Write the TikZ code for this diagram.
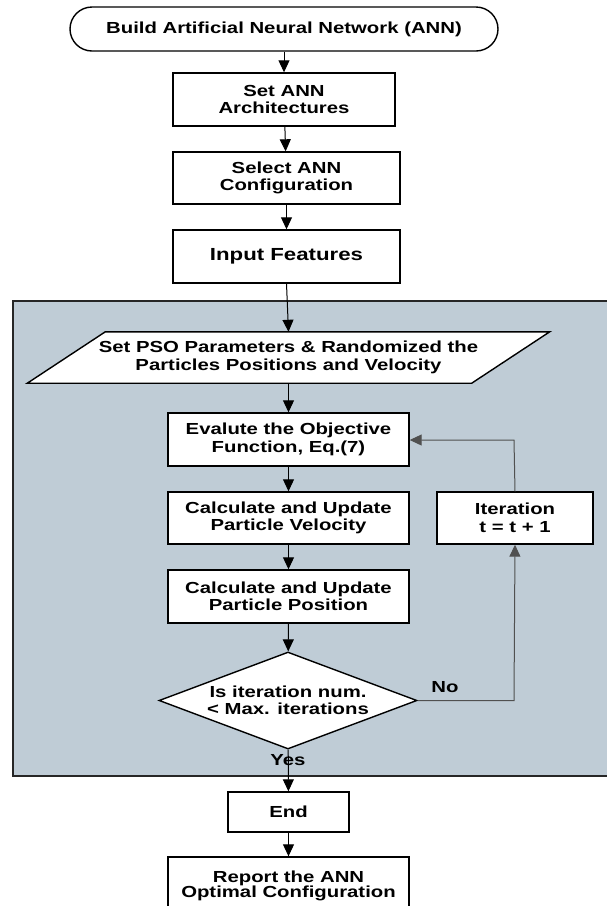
\documentclass[tikz,border=0pt]{standalone}
\usepackage{fontspec}
\newfontfamily\lab{Liberation Sans}[FakeStretch=1.27]
\usetikzlibrary{arrows.meta,shapes.geometric}
\definecolor{panelgray}{RGB}{191,204,214}
\definecolor{linegray}{RGB}{80,80,80}
\pgfdeclarelayer{back}
\pgfdeclarelayer{mid}
\pgfsetlayers{back,mid,main}
\begin{document}
\begin{tikzpicture}[x=1pt,y=-1pt,
  every node/.style={font=\lab\bfseries\fontsize{16}{17.5}\selectfont, align=center},
  box/.style={draw=black, fill=white, line width=1.4pt, inner sep=0pt},
  lbl/.style={inner sep=0pt},
  arr/.style={-{Triangle[width=11pt,length=12pt]}, line width=1pt, black},
  fb/.style={-{Triangle[width=11pt,length=12pt]}, line width=1pt, linegray}]
\useasboundingbox (0,0) rectangle (607,906);
\clip (0,0) rectangle (607,906);
\begin{pgfonlayer}{back}
\fill[white] (0,0) rectangle (607,906);
\filldraw[fill=panelgray, draw=black!85, line width=1.4pt] (13,301) rectangle (640,776);
\end{pgfonlayer}

\node[box, rounded corners=22pt, minimum width=428, minimum height=44] (start) at (284,29) {Build Artificial Neural Network (ANN)};
\node[box, minimum width=222, minimum height=53] (arch) at (284,99.5) {Set ANN\\Architectures};
\node[box, minimum width=227, minimum height=52] (config) at (286.5,178) {Select ANN\\Configuration};
\node[box, minimum width=227, minimum height=53, font=\lab\bfseries\fontsize{17.5}{19}\selectfont] (input) at (286.5,256.5) {Input Features};

\node[inner sep=0pt, minimum width=444, minimum height=51] (pso) at (288.5,357.5) {Set PSO Parameters \& Randomized the\\Particles Positions and Velocity};
\begin{pgfonlayer}{mid}
\filldraw[fill=white, draw=black, line width=1.4pt, line join=miter]
  ([xshift=-39pt]pso.south west) -- ([xshift=39pt]pso.north west) --
  ([xshift=39pt]pso.north east) -- ([xshift=-39pt]pso.south east) -- cycle;
\end{pgfonlayer}
\node[box, minimum width=241, minimum height=53] (eval) at (288.5,439.5) {Evalute the Objective\\Function, Eq.(7)};
\node[box, minimum width=241, minimum height=52] (vel) at (288.5,518) {Calculate and Update\\Particle Velocity};
\node[box, minimum width=241, minimum height=53] (pos) at (288.5,596.5) {Calculate and Update\\Particle Position};
\node[box, minimum width=156, minimum height=52] (iter) at (515,518) {Iteration\\t = t + 1};
\node[box, diamond, aspect=2.66, minimum width=258, minimum height=97] (dia) at (288,700.5) {Is iteration num.\\< Max. iterations};

\node[box, minimum width=121, minimum height=40] (end) at (288.5,812) {End};
\node[box, minimum width=241, minimum height=58] (report) at (288.5,886) {Report the ANN\\[-2pt]Optimal Configuration};

\coordinate (c1) at (514,700.5);
\coordinate (c2) at (514,440);

\draw[arr] (start) -- (arch);
\draw[arr] (arch) -- (config);
\draw[arr] (config) -- (input);
\draw[arr] (input.south) -- (pso.north);
\draw[arr] (pso) -- (eval);
\draw[arr] (eval) -- (vel);
\draw[arr] (vel) -- (pos);
\draw[arr] (pos) -- (dia);
\draw[arr] (dia) -- (end);
\draw[arr] (end) -- (report);
\draw[fb] (dia.east) -- (c1) -- (iter.south);
\draw[fb] (iter.north) -- (c2) -- (eval.east |- c2);

\node[lbl] (no) at (445,687) {No};
\node[lbl] (yes) at (288,760) {Yes};
\end{tikzpicture}
\end{document}
